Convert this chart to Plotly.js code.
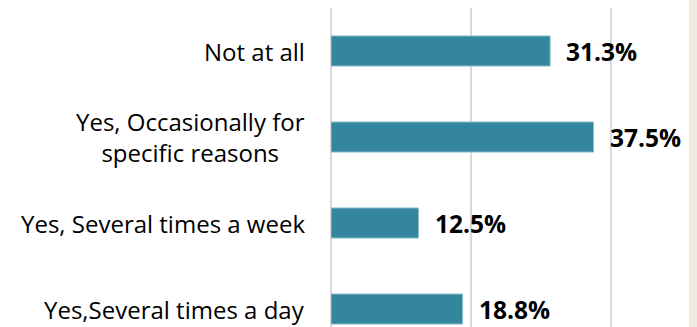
<!DOCTYPE html>
<html>
<head>
<meta charset="utf-8">
<script src="https://cdn.plot.ly/plotly-3.0.1.min.js"></script>
<style>
  html, body { margin: 0; padding: 0; background: #ffffff; }
  #chart { width: 697px; height: 327px; position: relative; }
  #edge { position: absolute; left: 689px; top: 0; width: 8px; height: 327px; background: #eeebe2; }
</style>
</head>
<body>
<div id="chart"></div>
<div id="edge"></div>
<script>
// Categories listed bottom-to-top (Plotly puts the first category at the bottom)
const categories = [
  "Yes,Several times a day",
  "Yes, Several times a week",
  "Yes, Occasionally for<br>specific reasons",
  "Not at all"
];
const values = [18.8, 12.5, 37.5, 31.3];
const valueLabels = ["18.8%", "12.5%", "37.5%", "31.3%"];

const FONT = "'Open Sans', sans-serif";
const barColor = "#33869e";

const trace = {
  type: "bar",
  orientation: "h",
  x: values,
  y: categories,
  width: 0.35,
  marker: { color: barColor, line: { color: "#8fbfcd", width: 1 } },
  hoverinfo: "none",
  showlegend: false
};

const annotations = [];
categories.forEach((c, i) => {
  annotations.push({
    xref: "paper", yref: "y",
    x: 0, y: c,
    xanchor: "right", yanchor: "middle",
    xshift: -24,
    text: c,
    align: "center",
    showarrow: false,
    font: { family: FONT, size: 24, color: "#000000" }
  });
  annotations.push({
    xref: "x", yref: "y",
    x: values[i], y: c,
    xanchor: "left", yanchor: "middle",
    xshift: 14,
    text: "<b>" + valueLabels[i] + "</b>",
    showarrow: false,
    font: { family: FONT, size: 24.5, color: "#000000" }
  });
});

const layout = {
  width: 697,
  height: 327,
  margin: { l: 331, r: 16, t: 8, b: 0, pad: 0 },
  paper_bgcolor: "rgba(0,0,0,0)",
  plot_bgcolor: "rgba(0,0,0,0)",
  bargap: 0.65,
  xaxis: {
    range: [0, 50],
    tickvals: [0, 20, 40],
    showticklabels: false,
    showgrid: true,
    gridcolor: "#d9d9d9",
    gridwidth: 2,
    zeroline: true,
    zerolinecolor: "#d9d9d9",
    zerolinewidth: 2,
    showline: false,
    fixedrange: true
  },
  yaxis: {
    type: "category",
    categoryorder: "array",
    categoryarray: categories,
    range: [-0.209, 3.5],
    showticklabels: false,
    showgrid: false,
    zeroline: false,
    showline: false,
    fixedrange: true
  },
  annotations: annotations,
  font: { family: FONT }
};

Plotly.newPlot("chart", [trace], layout, { displayModeBar: false, staticPlot: true });
</script>
</body>
</html>
